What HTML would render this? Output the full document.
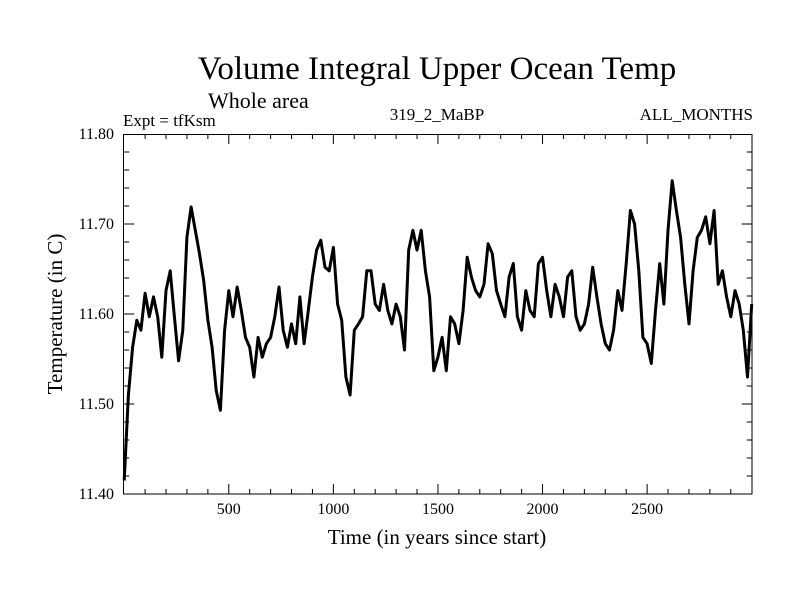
<!DOCTYPE html>
<html><head><meta charset="utf-8"><style>
html,body{margin:0;padding:0;background:#fff;}
svg text{font-family:"Liberation Serif",serif;fill:#000;}
</style></head><body>
<svg id="chart" width="800" height="600" xmlns="http://www.w3.org/2000/svg">
<text x="437" y="79" font-size="33" text-anchor="middle">Volume Integral Upper Ocean Temp</text>
<text x="208" y="108" font-size="22">Whole area</text>
<text x="123" y="126" font-size="17">Expt = tfKsm</text>
<text x="437" y="120" font-size="17" text-anchor="middle">319_2_MaBP</text>
<text x="753" y="120" font-size="17" text-anchor="end">ALL_MONTHS</text>
<text x="437" y="544" font-size="21" text-anchor="middle">Time (in years since start)</text>
<text x="0" y="0" font-size="21" text-anchor="middle" transform="translate(62,314) rotate(-90)">Temperature (in C)</text>
<g id="axes"></g>
<g id="series"></g>
<rect x="123.5" y="134.5" width="628.5" height="359.5" fill="none" stroke="#000" stroke-width="1"/>
</svg>
<script>
const years = [];
for (let i = 0; i <= 150; i++) years.push(i * 20);
const temps = [11.415,11.51,11.563,11.593,11.582,11.623,11.597,11.619,11.597,11.552,
11.626,11.648,11.597,11.548,11.582,11.685,11.719,11.693,11.667,11.637,
11.593,11.563,11.515,11.493,11.582,11.626,11.597,11.63,11.604,11.574,
11.563,11.53,11.574,11.552,11.567,11.574,11.597,11.63,11.582,11.563,
11.589,11.567,11.619,11.567,11.604,11.641,11.671,11.682,11.652,11.648,
11.674,11.611,11.593,11.53,11.51,11.582,11.589,11.597,11.648,11.648,
11.611,11.604,11.633,11.604,11.589,11.611,11.597,11.56,11.671,11.693,
11.671,11.693,11.648,11.619,11.537,11.552,11.574,11.537,11.597,11.589,
11.567,11.604,11.663,11.641,11.626,11.619,11.633,11.678,11.667,11.626,
11.611,11.597,11.641,11.656,11.597,11.582,11.626,11.604,11.597,11.656,
11.663,11.626,11.597,11.633,11.619,11.597,11.641,11.648,11.597,11.582,
11.589,11.611,11.652,11.619,11.589,11.567,11.56,11.582,11.626,11.604,
11.656,11.715,11.7,11.648,11.574,11.567,11.545,11.604,11.656,11.611,
11.693,11.748,11.715,11.685,11.633,11.589,11.648,11.685,11.693,11.708,
11.678,11.715,11.633,11.648,11.619,11.597,11.626,11.611,11.582,11.53,11.611];
const xTicks = [500,1000,1500,2000,2500];
const yTicks = [11.40,11.50,11.60,11.70,11.80];

const X0=124.2, X1=751.7, Y0=494, Y1=134;
const xs = v => X0 + (v-0)/(3000-0)*(X1-X0);
const ys = v => Y0 - (v-11.40)/(0.40)*(Y0-Y1);
const NS="http://www.w3.org/2000/svg";
const axes=document.getElementById('axes');
function line(x1,y1,x2,y2,name){
  const l=document.createElementNS(NS,'line');
  l.setAttribute('x1',x1);l.setAttribute('y1',y1);l.setAttribute('x2',x2);l.setAttribute('y2',y2);
  l.setAttribute('stroke','#000');l.setAttribute('stroke-width','1');
  
  
  axes.appendChild(l);
}
for(let t=100;t<3000;t+=100){
  const x=xs(t), major=(t%500===0), len=major?10:5;
  line(x,Y0,x,Y0-len,'x-tick');
  line(x,Y1,x,Y1+len,'x-tick-top');
}
for(let k=1;k<20;k++){
  const v=11.40+k*0.02, y=ys(v), major=(k%5===0), len=major?10:5;
  line(X0,y,X0+len,y,'y-tick');
  line(X1,y,X1-len,y,'y-tick-right');
}
xTicks.forEach(t=>{
  const tx=document.createElementNS(NS,'text');
  tx.setAttribute('x',xs(t));tx.setAttribute('y',514);tx.setAttribute('font-size','16');tx.setAttribute('text-anchor','middle');
  tx.textContent=String(t);
  
  
  axes.appendChild(tx);
});
yTicks.forEach(v=>{
  const tx=document.createElementNS(NS,'text');
  tx.setAttribute('x',114);tx.setAttribute('y',ys(v)+5);tx.setAttribute('font-size','16');tx.setAttribute('text-anchor','end');
  tx.textContent=v.toFixed(2);
  
  
  axes.appendChild(tx);
});
const p=document.createElementNS(NS,'polyline');
p.setAttribute('points',years.map((yr,i)=>xs(yr).toFixed(1)+','+ys(temps[i]).toFixed(1)).join(' '));
p.setAttribute('fill','none');p.setAttribute('stroke','#000');p.setAttribute('stroke-width','3');p.setAttribute('stroke-linejoin','round');


document.getElementById('series').appendChild(p);
</script>
</body></html>
